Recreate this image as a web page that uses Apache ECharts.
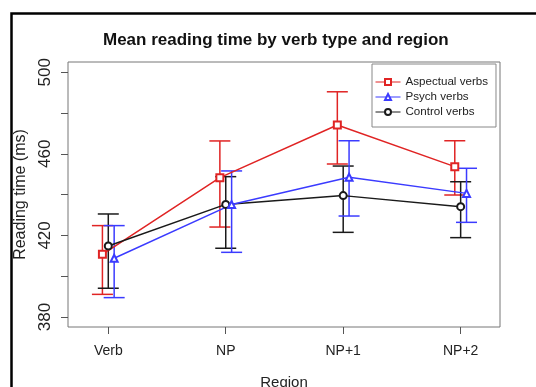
<!DOCTYPE html>
<html><head><meta charset="utf-8">
<script src="https://cdn.jsdelivr.net/npm/echarts@6/dist/echarts.min.js"></script>
<style>html,body{margin:0;padding:0;background:#fff}#c{width:536px;height:387px}</style>
</head><body><div id="c"></div>
<script>
// ---- data ----
const regions = ['Verb', 'NP', 'NP+1', 'NP+2'];
const seriesNames = ['Aspectual verbs', 'Psych verbs', 'Control verbs'];
const aspectualMean = [410.7, 448.3, 474.1, 453.7];
const aspectualLow  = [391.1, 424.1, 455.0, 439.8];
const aspectualHigh = [424.8, 466.3, 490.4, 466.4];
const psychMean = [408.8, 435.1, 448.5, 440.6];
const psychLow  = [389.5, 411.7, 429.5, 426.4];
const psychHigh = [424.8, 451.6, 466.4, 452.9];
const controlMean = [414.8, 435.2, 439.5, 434.1];
const controlLow  = [394.1, 413.7, 421.5, 418.9];
const controlHigh = [430.5, 448.8, 454.0, 446.3];
const yTickValues = [380, 400, 420, 440, 460, 480, 500];
const yLabelValues = [380, 420, 460, 500];

// ---- styling ----
const FONT = 'Liberation Sans';
const colors = ['#e02424', '#3b3bff', '#1a1a1a'];
const symbols = ['emptyRect', 'emptyTriangle', 'emptyCircle'];
const dodge = [-0.05, 0.05, 0];
const means = [aspectualMean, psychMean, controlMean];
const lows = [aspectualLow, psychLow, controlLow];
const highs = [aspectualHigh, psychHigh, controlHigh];
const xPositions = regions.map((_, i) => i + 1);

function errorBarSeries(k) {
  const color = colors[k];
  return {
    type: 'custom',
    name: seriesNames[k] + ' error',
    silent: true,
    z: 2,
    encode: { x: 0, y: [1, 2] },
    data: lows[k].map((l, i) => [xPositions[i] + dodge[k], l, highs[k][i]]),
    renderItem: function (params, api) {
      const x = api.value(0);
      const lo = api.coord([x, api.value(1)]);
      const hi = api.coord([x, api.value(2)]);
      const hw = 10.5;
      const style = { stroke: color, lineWidth: 1.5, fill: null };
      return {
        type: 'group',
        children: [
          { type: 'line', shape: { x1: lo[0], y1: lo[1], x2: hi[0], y2: hi[1] }, style: style },
          { type: 'line', shape: { x1: lo[0] - hw, y1: lo[1], x2: lo[0] + hw, y2: lo[1] }, style: style },
          { type: 'line', shape: { x1: hi[0] - hw, y1: hi[1], x2: hi[0] + hw, y2: hi[1] }, style: style }
        ]
      };
    }
  };
}

function lineSeries(k) {
  return {
    type: 'line',
    name: seriesNames[k],
    z: 3,
    data: means[k].map((m, i) => [xPositions[i] + dodge[k], m]),
    symbol: symbols[k],
    symbolSize: 7,
    lineStyle: { color: colors[k], width: 1.5 },
    itemStyle: { color: colors[k], borderColor: colors[k], borderWidth: 1.3 },
    animation: false
  };
}

const series = [];
[0, 2, 1].forEach(k => { series.push(errorBarSeries(k)); series.push(lineSeries(k)); });

const chart = echarts.init(document.getElementById('c'), null, { renderer: 'canvas' });
chart.setOption({
  animation: false,
  backgroundColor: '#fff',
  title: {
    text: 'Mean reading time by verb type and region',
    left: 103, top: 32, padding: 0,
    textStyle: { fontFamily: FONT, fontSize: 17, fontWeight: 'bold', color: '#111' }
  },
  legend: {
    orient: 'vertical', left: 372, top: 64,
    padding: [12, 8, 9, 3],
    itemWidth: 25, itemHeight: 7.5, itemGap: 3,
    borderColor: '#888', borderWidth: 1, backgroundColor: '#fff',
    lineStyle: { width: 1 },
    itemStyle: { borderWidth: 1 },
    textStyle: { fontFamily: FONT, fontSize: 11.6, color: '#222', lineHeight: 12 },
    data: seriesNames
  },
  graphic: [{
    type: 'rect', left: 9, top: 11, z: 100, silent: true,
    shape: { width: 600, height: 500 },
    style: { fill: null, stroke: '#000', lineWidth: 2.5 }
  }],
  grid: {
    left: 68, top: 62, width: 432, height: 265,
    show: true, borderColor: '#777', borderWidth: 1,
    containLabel: false, outerBoundsMode: 'none'
  },
  xAxis: {
    type: 'value', min: 0.657, max: 4.335,
    splitLine: { show: false },
    axisLine: { show: false },
    axisTick: { show: true, length: 7, customValues: xPositions, lineStyle: { color: '#555' } },
    axisLabel: {
      customValues: xPositions, margin: 17,
      fontFamily: FONT, fontSize: 14, color: '#222',
      formatter: v => regions[Math.round(v) - 1]
    },
    name: 'Region', nameLocation: 'middle', nameGap: 48,
    nameTextStyle: { fontFamily: FONT, fontSize: 15, color: '#222' }
  },
  yAxis: {
    type: 'value', min: 375.1, max: 505,
    splitLine: { show: false },
    axisLine: { show: false },
    axisTick: { show: true, length: 7, customValues: yTickValues, lineStyle: { color: '#555' } },
    axisLabel: {
      customValues: yLabelValues, rotate: 90, margin: 14,
      fontFamily: FONT, fontSize: 17, color: '#222'
    },
    name: 'Reading time (ms)', nameLocation: 'middle', nameGap: 39, nameRotate: 90,
    nameTextStyle: { fontFamily: FONT, fontSize: 16, color: '#222' }
  },
  series: series
});
</script>
</body></html>
